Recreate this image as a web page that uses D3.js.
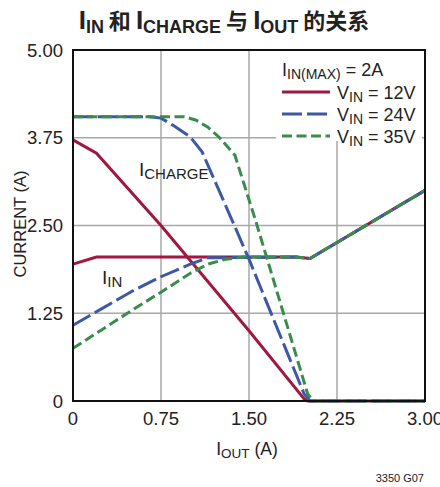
<!DOCTYPE html>
<html>
<head>
<meta charset="utf-8">
<script src="https://cdn.jsdelivr.net/npm/d3@7"></script>
<style>
  body { margin: 0; background: #fff; }
  svg { display: block; }
  text { font-family: "Liberation Sans Narrow", "Arial Narrow", sans-serif; fill: #222; }
</style>
</head>
<body>
<svg width="440" height="487"></svg>
<script>
// data (IOUT in A, current in A)
const xTicks = [0, 0.75, 1.5, 2.25, 3.0];
const xTickLabels = ["0", "0.75", "1.50", "2.25", "3.00"];
const yTicks = [0, 1.25, 2.5, 3.75, 5.0];
const yTickLabels = ["0", "1.25", "2.50", "3.75", "5.00"];

const charge12X = [0, 0.2, 0.75, 1.5, 1.97, 2.0, 3.0];
const charge12 = [3.72, 3.53, 2.5, 1.0, 0.03, 0, 0];
const charge24X = [0, 0.65, 0.75, 0.85, 1.0, 1.1, 1.37, 1.5, 1.97, 2.02, 3.0];
const charge24 = [4.05, 4.05, 4.03, 3.93, 3.76, 3.55, 2.52, 2.02, 0.1, 0, 0];
const charge35X = [0, 0.95, 1.05, 1.15, 1.25, 1.38, 1.56, 2.0, 2.05, 3.0];
const charge35 = [4.05, 4.05, 4.0, 3.9, 3.75, 3.5, 2.55, 0.1, 0, 0];

const in12X = [0, 0.2, 1.9, 2.02, 3.0];
const in12 = [1.95, 2.05, 2.05, 2.03, 3.0];
const in24X = [0, 0.25, 0.5, 0.75, 1.0, 1.15, 1.9, 2.02, 3.0];
const in24 = [1.08, 1.32, 1.56, 1.77, 1.95, 2.04, 2.05, 2.03, 3.0];
const in35X = [0, 0.25, 0.5, 0.75, 1.0, 1.15, 1.3, 1.45, 1.9, 2.02, 3.0];
const in35 = [0.75, 1.02, 1.29, 1.55, 1.82, 1.95, 2.02, 2.05, 2.05, 2.03, 3.0];

const seriesNames = ["VIN = 12V", "VIN = 24V", "VIN = 35V"];

const svg = d3.select("svg");
const cjk = "'Noto Sans CJK SC', sans-serif";

const colors = ["#a0173f", "#3d58a8", "#3a8c4c"];
const dashes = [null, "20,5", "10,4.5"];

const x = d3.scaleLinear().domain([0, 3]).range([73, 425]);
const y = d3.scaleLinear().domain([0, 5]).range([401, 50]);

// rich text helper: parts = [text, size, shift, family]
function rich(sel, px, py, parts, anchor, weight) {
    const t = sel.append("text")
        .attr("x", px).attr("y", py)
        .attr("text-anchor", anchor || "start")
        .attr("font-weight", weight || "normal");
    let cur = 0;
    parts.forEach(p => {
        const shift = p[2] || 0;
        const ts = t.append("tspan")
            .attr("font-size", p[1])
            .attr("dy", shift - cur)
            .text(p[0]);
        if (p[3]) ts.style("font-family", p[3]);
        cur = shift;
    });
    return t;
}

// title
rich(svg, 224, 29, [
    ["I", 26, 0], ["IN", 18, 4], [" 和 ", 22, 0, cjk],
    ["I", 26, 0], ["CHARGE", 18, 4], [" 与 ", 22, 0, cjk],
    ["I", 26, 0], ["OUT", 18, 4], [" 的关系", 22, 0, cjk]
], "middle", "bold");

// grid
svg.append("g").selectAll("line")
    .data(xTicks.slice(1, -1))
    .join("line")
    .attr("x1", d => x(d)).attr("x2", d => x(d))
    .attr("y1", y(0)).attr("y2", y(5))
    .attr("stroke", "#a8a8a8").attr("stroke-width", 1.5);

svg.append("g").selectAll("line")
    .data(yTicks.slice(1, -1))
    .join("line")
    .attr("x1", x(0)).attr("x2", x(3))
    .attr("y1", d => y(d)).attr("y2", d => y(d))
    .attr("stroke", "#a8a8a8").attr("stroke-width", 1.5);

// legend background hides the grid
svg.append("rect")
    .attr("x", 276).attr("y", 51)
    .attr("width", 146).attr("height", 90)
    .attr("fill", "#fff");

// tick labels
svg.append("g").selectAll("text")
    .data(xTicks)
    .join("text")
    .attr("x", d => x(d))
    .attr("y", 425)
    .attr("text-anchor", "middle")
    .attr("font-size", 18.5)
    .text((d, i) => xTickLabels[i]);

svg.append("g").selectAll("text")
    .data(yTicks)
    .join("text")
    .attr("x", 63)
    .attr("y", d => y(d) + 6.5)
    .attr("text-anchor", "end")
    .attr("font-size", 18.5)
    .text((d, i) => yTickLabels[i]);

// axis titles
svg.append("text")
    .attr("transform", "translate(26,224) rotate(-90)")
    .attr("text-anchor", "middle")
    .attr("font-size", 16.5)
    .text("CURRENT (A)");

rich(svg, 247, 455, [["I", 17.5, 0], ["OUT", 13.5, 3], [" (A)", 17.5, 0]], "middle");

svg.append("text")
    .attr("x", 424).attr("y", 482)
    .attr("text-anchor", "end")
    .attr("font-size", 11)
    .text("3350 G07");

// curves
const line = d3.line()
    .x(d => x(d[0]))
    .y(d => y(d[1]));

const curves = [
    [charge12X, charge12, 0], [in12X, in12, 0],
    [charge24X, charge24, 1], [in24X, in24, 1],
    [charge35X, charge35, 2], [in35X, in35, 2]
];

svg.append("g").selectAll("path")
    .data(curves)
    .join("path")
    .attr("d", d => line(d3.zip(d[0], d[1])))
    .attr("fill", "none")
    .attr("stroke", d => colors[d[2]])
    .attr("stroke-width", 3)
    .attr("stroke-dasharray", d => dashes[d[2]]);

// frame
svg.append("rect")
    .attr("x", x(0)).attr("y", y(5))
    .attr("width", x(3) - x(0)).attr("height", y(0) - y(5))
    .attr("fill", "none")
    .attr("stroke", "#111")
    .attr("stroke-width", 2);

// annotations
rich(svg, 139, 176, [["I", 19, 0], ["CHARGE", 15, 3]]);
rich(svg, 102, 284, [["I", 19, 0], ["IN", 15, 3]]);

// legend
rich(svg, 282, 76, [["I", 18, 0], ["IN(MAX)", 14, 3], [" = 2A", 18, 0]]);

const legend = svg.append("g").selectAll("g")
    .data(seriesNames)
    .join("g")
    .attr("transform", (d, i) => `translate(282,${92 + i * 22})`);

legend.append("line")
    .attr("x1", 0).attr("x2", 48)
    .attr("stroke", (d, i) => colors[i])
    .attr("stroke-width", 3)
    .attr("stroke-dasharray", (d, i) => dashes[i]);

legend.each(function(d) {
    const parts = d.split("IN");
    rich(d3.select(this), 55, 7, [[parts[0], 18, 0], ["IN", 14, 3], [parts[1], 18, 0]]);
});
</script>
</body>
</html>
